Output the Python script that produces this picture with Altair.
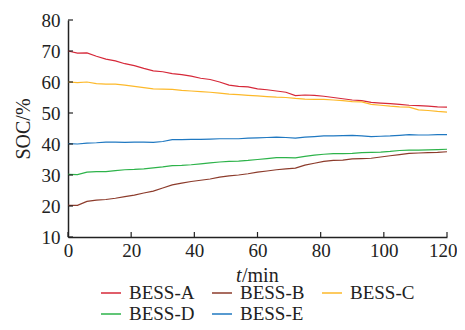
import altair as alt
import pandas as pd

t_min = list(range(0, 121, 3))

bess_a = [70.0, 69.3, 69.4, 68.3, 67.4, 66.8, 65.9, 65.3, 64.4, 63.6, 63.3, 62.7, 62.4, 61.9,
          61.2, 60.8, 60.0, 59.0, 58.6, 58.4, 57.8, 57.5, 57.1, 56.7, 55.6, 55.8, 55.7, 55.4,
          55.0, 54.6, 54.2, 54.0, 53.4, 53.2, 53.0, 52.8, 52.5, 52.4, 52.2, 52.0, 51.9]
bess_b = [20.2, 20.2, 21.5, 21.9, 22.1, 22.5, 23.0, 23.5, 24.2, 24.8, 25.8, 26.8, 27.4, 27.9,
          28.3, 28.7, 29.3, 29.7, 30.0, 30.4, 30.9, 31.3, 31.7, 32.0, 32.2, 33.2, 33.8, 34.4,
          34.7, 34.8, 35.2, 35.3, 35.4, 35.8, 36.2, 36.6, 37.0, 37.1, 37.2, 37.3, 37.5]
bess_c = [60.0, 59.8, 60.0, 59.5, 59.3, 59.3, 59.0, 58.6, 58.2, 57.8, 57.7, 57.6, 57.3, 57.1,
          56.9, 56.7, 56.4, 56.1, 55.9, 55.7, 55.5, 55.3, 55.1, 55.0, 54.7, 54.5, 54.4, 54.4,
          54.2, 54.0, 53.7, 53.6, 52.8, 52.5, 52.2, 52.0, 51.9, 51.0, 50.8, 50.5, 50.3]
bess_d = [30.2, 30.1, 30.9, 31.1, 31.1, 31.4, 31.7, 31.8, 32.0, 32.3, 32.6, 33.0, 33.1, 33.3,
          33.6, 33.9, 34.2, 34.4, 34.5, 34.7, 35.0, 35.3, 35.6, 35.6, 35.5, 36.0, 36.4, 36.7,
          36.9, 36.9, 37.0, 37.2, 37.3, 37.4, 37.6, 37.9, 38.0, 38.0, 38.1, 38.2, 38.3]
bess_e = [40.1, 40.0, 40.3, 40.4, 40.6, 40.6, 40.5, 40.6, 40.6, 40.5, 40.8, 41.4, 41.4, 41.5,
          41.5, 41.6, 41.7, 41.7, 41.7, 41.9, 42.0, 42.1, 42.2, 42.1, 41.9, 42.2, 42.4, 42.6,
          42.6, 42.7, 42.8, 42.6, 42.4, 42.5, 42.6, 42.8, 43.0, 42.9, 42.9, 43.0, 43.0]

series_names = ["BESS-A", "BESS-B", "BESS-C", "BESS-D", "BESS-E"]
series_colors = ["#d62839", "#8c3b2b", "#fdb92a", "#2db34a", "#1f78c1"]
x_ticks = [0, 20, 40, 60, 80, 100, 120]
y_ticks = [10, 20, 30, 40, 50, 60, 70, 80]

rows = []
for name, vals in zip(series_names, [bess_a, bess_b, bess_c, bess_d, bess_e]):
    for t, v in zip(t_min, vals):
        rows.append({"t": t, "soc": v, "series": name})
df = pd.DataFrame(rows)

FONT = "Liberation Serif"
W, H = 379, 217

xscale = alt.Scale(domain=[0, 120], nice=False)
yscale = alt.Scale(domain=[10, 80], nice=False)

x_axis = alt.Axis(values=x_ticks, title=None, tickSize=0, labelPadding=4,
                  labelFontSize=19, labelFont=FONT, labelColor="#222",
                  labelOverlap=False,
                  labelAlign={"expr": "datum.value == 120 ? 'right' : 'center'"},
                  labelOffset={"expr": "datum.value == 120 ? 10 : 0"},
                  domainColor="#222", domainWidth=1.5, grid=False, labelFlush=False)
y_axis = alt.Axis(values=y_ticks, title="SOC/%", tickSize=0, labelPadding=8,
                  labelFontSize=19, labelFont=FONT, labelColor="#222",
                  labelOverlap=False,
                  titleFontSize=20, titleFont=FONT, titleFontWeight="normal",
                  titleColor="#222", titlePadding=8,
                  domainColor="#222", domainWidth=1.5, grid=False, labelFlush=False)

lines = alt.Chart(df).mark_line(strokeWidth=1.2).encode(
    x=alt.X("t:Q", scale=xscale, axis=x_axis),
    y=alt.Y("soc:Q", scale=yscale, axis=y_axis),
    color=alt.Color("series:N",
                    scale=alt.Scale(domain=series_names, range=series_colors),
                    legend=alt.Legend(title=None, orient="none", legendX=32, legendY=262,
                                      direction="horizontal", columns=3,
                                      symbolType="stroke", symbolSize=400,
                                      symbolStrokeWidth=1.5, labelFontSize=19,
                                      labelFont=FONT, labelColor="#222",
                                      labelOffset=7, columnPadding=14, rowPadding=-3,
                                      padding=0)),
)

xt_df = pd.DataFrame({"t": x_ticks})
xticks = alt.Chart(xt_df).mark_rule(color="#222", strokeWidth=1.2).encode(
    x=alt.X("t:Q", scale=xscale, axis=x_axis), y=alt.value(H), y2=alt.value(H - 5))
yt_df = pd.DataFrame({"soc": y_ticks})
yticks = alt.Chart(yt_df).mark_rule(color="#222", strokeWidth=1.2).encode(
    y=alt.Y("soc:Q", scale=yscale, axis=y_axis), x=alt.value(0), x2=alt.value(5))

t_italic = alt.Chart(pd.DataFrame({"s": ["t"]})).mark_text(
    font=FONT, fontSize=20, fontStyle="italic", align="left", baseline="alphabetic",
    color="#222").encode(x=alt.value(168), y=alt.value(262), text="s:N")
t_rest = alt.Chart(pd.DataFrame({"s": ["/min"]})).mark_text(
    font=FONT, fontSize=20, align="left", baseline="alphabetic",
    color="#222").encode(x=alt.value(174), y=alt.value(262), text="s:N")

chart = alt.layer(lines, xticks, yticks, t_italic, t_rest).properties(
    width=W, height=H,
    autosize=alt.AutoSizeParams(type="none"),
    padding={"left": 60, "top": 12, "right": 10, "bottom": 85},
).configure_view(stroke=None)

chart.save("out.html", embed_options={"renderer": "svg", "actions": False})
